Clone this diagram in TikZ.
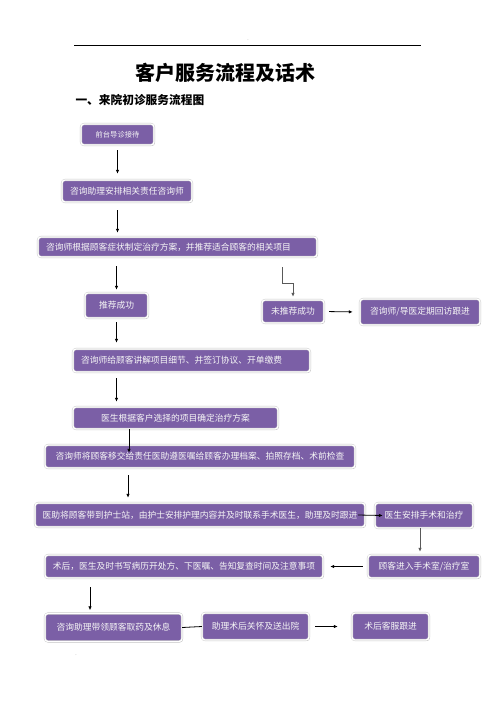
\documentclass[tikz,border=0pt]{standalone}
\usepackage{fontspec}
\setmainfont{Noto Sans CJK SC}
\usepackage{xcolor}
\usetikzlibrary{arrows.meta,positioning,calc,shadows}
\definecolor{boxpurple}{HTML}{7B5FA6}

\begin{document}
\begin{tikzpicture}[x=1pt, y=-1pt,
    box/.style={rectangle, rounded corners=3pt, fill=boxpurple, draw=gray!45, double=white, double distance=1.3pt, line width=0.4pt, text=white!93!gray, inner sep=0pt, align=center, font=\fontsize{8.75}{10}\selectfont, drop shadow={shadow xshift=0.9pt, shadow yshift=-0.9pt, fill=gray!60, opacity=.7}},
    leftbox/.style={box, align=left, inner xsep=8pt},
    line/.style={draw, -{Latex[length=4pt,width=3.5pt]}, line width=0.8pt},
    grayline/.style={line, draw=black!65}]

    \useasboundingbox (0,0) rectangle (496,702);

    % header and titles
    \draw [line width=0.7pt] (74,45) -- (421,45);
    \node [font=\tiny, text=gray] (hdot) at (248,40) {.};
    \node [font=\fontsize{20}{22}\selectfont\bfseries] (title) at (225,73) {客户服务流程及话术};
    \node [font=\fontsize{11.7}{13}\selectfont\bfseries, anchor=west] (subtitle) at (72,100) {一、来院初诊服务流程图};
    \node [font=\tiny, text=gray] (fdot) at (76,655) {.};

    % flow boxes
    \node [box, minimum width=73pt, minimum height=21pt, font=\fontsize{7.3}{9}\selectfont] (front) at (117.5,134.5) {前台导诊接待};
    \node [box, minimum width=130pt, minimum height=22pt] (assist) at (127,191) {咨询助理安排相关责任咨询师};
    \node [leftbox, text width=263pt, minimum height=20pt] (plan) at (177.5,247) {咨询师根据顾客症状制定治疗方案，并推荐适合顾客的相关项目};
    \node [box, minimum width=63pt, minimum height=25pt] (succ) at (116.5,305.5) {推荐成功};
    \node [box, minimum width=62pt, minimum height=23pt] (fail) at (293,311.5) {未推荐成功};
    \node [box, minimum width=120pt, minimum height=26pt] (visit) at (420,312) {咨询师/导医定期回访跟进};
    \node [leftbox, text width=221pt, minimum height=23pt] (explain) at (191.5,360.5) {咨询师给顾客讲解项目细节、并签订协议、开单缴费};
    \node [box, minimum width=205pt, minimum height=22pt] (doctor) at (175.5,418) {医生根据客户选择的项目确定治疗方案};
    \node [box, minimum width=310pt, minimum height=23pt] (transfer) at (200,456.5) {咨询师将顾客移交给责任医助遵医嘱给顾客办理档案、拍照存档、术前检查};
    \node [box, minimum width=330pt, minimum height=24pt] (nurse) at (200,515) {医助将顾客带到护士站，由护士安排护理内容并及时联系手术医生，助理及时跟进};
    \node [box, minimum width=98pt, minimum height=25pt] (surgeon) at (424,515.5) {医生安排手术和治疗};
    \node [box, minimum width=112pt, minimum height=23pt] (room) at (424,566.5) {顾客进入手术室/治疗室};
    \node [box, minimum width=278pt, minimum height=23pt] (postop) at (184,566.5) {术后，医生及时书写病历开处方、下医嘱、告知复查时间及注意事项};
    \node [box, minimum width=137pt, minimum height=28pt] (medicine) at (113.5,627.5) {咨询助理带领顾客取药及休息};
    \node [box, minimum width=107pt, minimum height=27pt] (discharge) at (255.5,626.5) {助理术后关怀及送出院};
    \node [box, minimum width=77pt, minimum height=27pt] (follow) at (390.5,626.5) {术后客服跟进};

    % connectors
    \path [line, shorten <=5pt, shorten >=6pt] (front.south) -- (front.south |- assist.north);
    \path [line, shorten <=8pt, shorten >=4pt] (front.south |- assist.south) -- (front.south |- plan.north);
    \path [line, shorten <=9pt, shorten >=3pt] (succ.north |- plan.south) -- (succ.north);
    \draw [grayline, shorten <=10pt, shorten >=3pt] (282,0 |- plan.south) -- (282,283) -| (fail.north);
    \path [line, shorten <=5pt, shorten >=7pt] (fail.east) -- (visit.west);
    \path [line, shorten <=4pt, shorten >=6pt] (succ.south) -- (succ.south |- explain.north);
    \path [line, shorten <=6pt, shorten >=5pt] (succ.south |- explain.south) -- (succ.south |- doctor.north);
    \path [line] (129,0 |- doctor.south) -- ([yshift=-8pt]129,0 |- transfer.north);
    \path [line, shorten <=7pt, shorten >=5pt] (128,0 |- transfer.south) -- (128,0 |- nurse.north);
    \path [line] ([xshift=-7pt]nurse.east) -- ([xshift=8pt]surgeon.west);
    \path [grayline, shorten >=3pt] (420,0 |- surgeon.south) -- (420,0 |- room.north);
    \path [line, shorten <=5pt, shorten >=7pt] (room.west) -- (postop.east);
    \path [line, shorten <=9pt, shorten >=3pt] (90,0 |- postop.south) -- (90,0 |- medicine.north);
    \draw [line width=0.8pt] (medicine.east) -- (discharge.west);
    \path [line, shorten <=6pt, shorten >=14pt] (discharge.east) -- (follow.west);
\end{tikzpicture}
\end{document}
